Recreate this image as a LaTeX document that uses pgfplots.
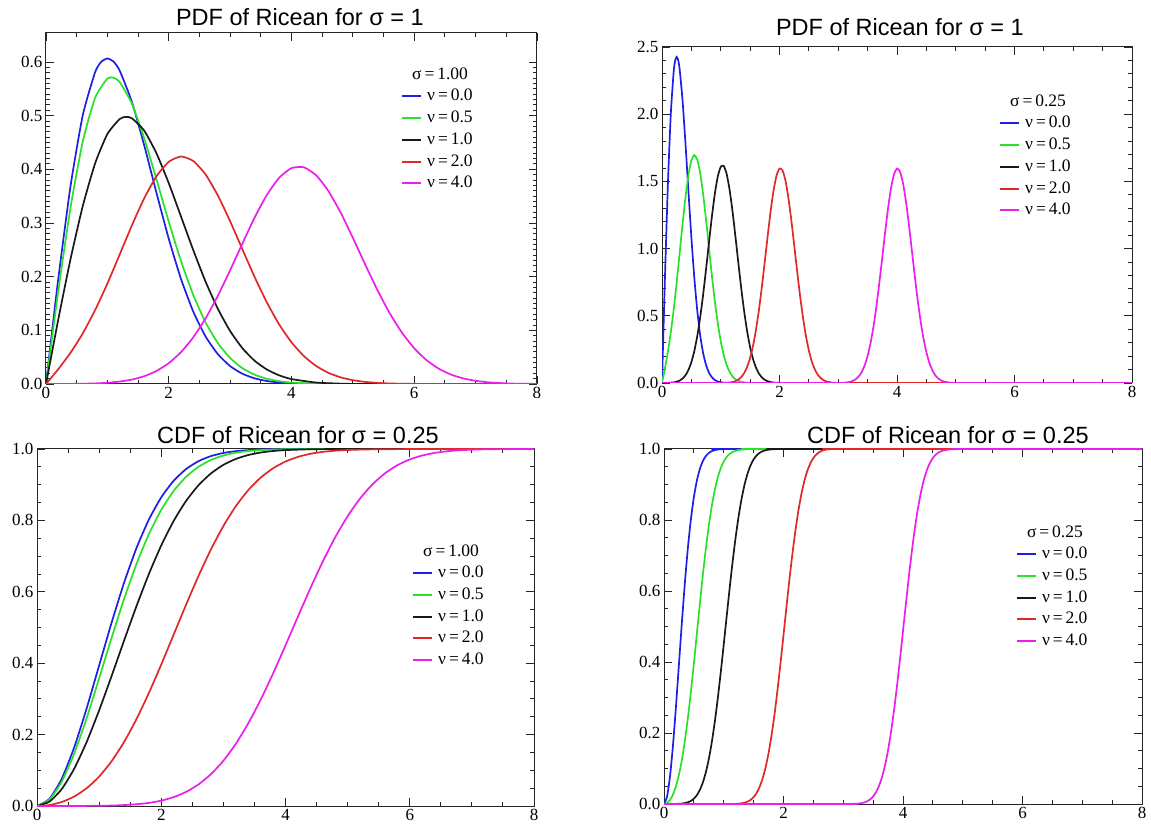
\documentclass[border=0pt]{standalone}
\usepackage{fontspec}
\setmainfont{Liberation Serif}
\newfontfamily\sansf{Liberation Sans}
\usepackage{pgfplots}
\pgfplotsset{compat=1.18}
\definecolor{cblue}{RGB}{30,30,230}
\definecolor{cgreen}{RGB}{40,225,40}
\definecolor{cblack}{RGB}{25,25,25}
\definecolor{cred}{RGB}{225,40,40}
\definecolor{cmag}{RGB}{235,30,235}
\pgfplotsset{
  rice/.style={
    scale only axis, anchor=south west,
    xmin=0, xmax=8, ymin=0,
    xtick={0,2,4,6,8}, minor x tick num=3,
    tick align=inside, major tick length=8pt, minor tick length=4pt,
    axis line style={black!85, line width=1pt},
    tick style={black!85, line width=0.9pt},
    /pgf/number format/assume math mode=true,
    tick label style={font=\fontsize{17}{17}\selectfont},
    yticklabel style={/pgf/number format/.cd, fixed, fixed zerofill, precision=1},
    xticklabel style={/pgf/number format/.cd, fixed, precision=0},
    legend cell align=left,
    legend image code/.code={\draw[##1, line width=2pt] (0pt,0pt) -- (19pt,0pt);},
    legend style={draw=none, fill=none, anchor=north west, inner sep=0pt,
      row sep=6.7pt, column sep=5pt, font=\fontsize{17.5}{17.5}\selectfont,
      nodes={inner sep=0pt, text height=12pt, text depth=3pt}},
    every axis plot/.append style={line width=1.7pt, smooth, tension=0.35},
    every axis title shift=0pt,
    title style={font=\sansf\fontsize{23.5}{24}\selectfont, anchor=base, inner sep=0pt},
  }
}
\begin{document}
\begin{tikzpicture}
\useasboundingbox (0,0) rectangle (1151pt,836pt);
% ---------------- Top left: PDF sigma = 1
\begin{axis}[rice, at={(46pt,452pt)}, width=491pt, height=351pt,
  ymax=0.654, ytick={0,0.1,0.2,0.3,0.4,0.5,0.6}, minor y tick num=9,
  title={PDF of Ricean for σ = 1}, title style={at={(0.517,1)}, yshift=7.5pt},
  legend style={at={(0.723,0.903)}}]
\addlegendimage{empty legend}
\addlegendentry{\hspace*{-15pt}σ\,=\,1.00}
\addplot[cblue] coordinates {(0,0)(0.1,0.0995)(0.2,0.1960)(0.4,0.3692)(0.6,0.5012)(0.8,0.5809)(0.9,0.6003)(1.0,0.6065)(1.1,0.6007)(1.2,0.5841)(1.4,0.5254)(1.6,0.4448)(1.8,0.3562)(2.0,0.2707)(2.2,0.1956)(2.4,0.1347)(2.6,0.0885)(2.8,0.0556)(3.0,0.0333)(3.2,0.0191)(3.4,0.0105)(3.6,0.0055)(3.8,0.0028)(4.0,0.0013)(4.4,0.0003)(5.0,0)(8,0)};
\addlegendentry{ν\,=\,0.0}
\addplot[cgreen] coordinates {(0,0)(0.2,0.1734)(0.4,0.3291)(0.6,0.4523)(0.8,0.5333)(1.0,0.5692)(1.1,0.5706)(1.2,0.5629)(1.4,0.5222)(1.6,0.4579)(1.8,0.3813)(2.0,0.3025)(2.2,0.2289)(2.4,0.1658)(2.6,0.1148)(2.8,0.0762)(3.0,0.0484)(3.2,0.0295)(3.4,0.0173)(3.6,0.0097)(3.8,0.0053)(4.0,0.0026)(4.4,0.0007)(5,0)(8,0)};
\addlegendentry{ν\,=\,0.5}
\addplot[cblack] coordinates {(0,0)(0.2,0.1201)(0.4,0.2330)(0.6,0.3319)(0.8,0.4110)(1.0,0.4657)(1.2,0.4937)(1.3,0.4977)(1.4,0.4950)(1.6,0.4721)(1.8,0.4298)(2.0,0.3743)(2.2,0.3119)(2.4,0.2493)(2.6,0.1907)(2.8,0.1401)(3.0,0.0987)(3.2,0.0667)(3.4,0.0432)(3.6,0.0269)(3.8,0.0161)(4.0,0.0092)(4.4,0.0027)(4.8,0.0007)(5.2,0.0001)(8,0)};
\addlegendentry{ν\,=\,1.0}
\addplot[cred] coordinates {(0,0)(0.2,0.0276)(0.4,0.0583)(0.6,0.0945)(0.8,0.1376)(1.0,0.1871)(1.2,0.2411)(1.4,0.2956)(1.6,0.3460)(1.8,0.3870)(2.0,0.4140)(2.2,0.4239)(2.4,0.4155)(2.6,0.3904)(2.8,0.3513)(3.0,0.3033)(3.2,0.2510)(3.4,0.1992)(3.6,0.1517)(3.8,0.1108)(4.0,0.0777)(4.2,0.0522)(4.4,0.0337)(4.6,0.0209)(4.8,0.0124)(5.0,0.0071)(5.2,0.0039)(5.4,0.0021)(5.6,0.0010)(5.8,0.0005)(6.0,0.0002)(6.4,0)(8,0)};
\addlegendentry{ν\,=\,2.0}
\addplot[cmag] coordinates {(0,0)(0.2,0.0001)(0.4,0.0002)(0.6,0.0005)(0.8,0.0011)(1.0,0.0023)(1.2,0.0045)(1.4,0.0082)(1.6,0.0145)(1.8,0.0243)(2.0,0.0388)(2.2,0.0594)(2.4,0.0871)(2.6,0.1222)(2.8,0.1644)(3.0,0.2119)(3.2,0.2617)(3.4,0.3102)(3.6,0.3525)(3.8,0.3844)(4.0,0.4022)(4.2,0.4038)(4.4,0.3891)(4.6,0.3598)(4.8,0.3195)(5.0,0.2723)(5.2,0.2228)(5.4,0.1750)(5.6,0.1320)(5.8,0.0956)(6.0,0.0665)(6.2,0.0444)(6.4,0.0285)(6.6,0.0175)(6.8,0.0104)(7.0,0.0059)(7.2,0.0032)(7.4,0.0017)(7.6,0.0008)(7.8,0.0004)(8.0,0.0002)};
\addlegendentry{ν\,=\,4.0}
\end{axis}
% ---------------- Top right: PDF sigma = 0.25
\begin{axis}[rice, at={(662pt,453pt)}, width=470pt, height=336pt,
  ymax=2.5, ytick={0,0.5,1,1.5,2,2.5}, minor y tick num=4,
  title={PDF of Ricean for σ = 1}, title style={at={(0.506,1)}, yshift=11.5pt},
  legend style={at={(0.717,0.860)}}]
\addlegendimage{empty legend}
\addlegendentry{\hspace*{-15pt}σ\,=\,0.25}
\addplot[cblue] coordinates {(0,0)(0.025,0.398)(0.05,0.784)(0.1,1.4768)(0.15,2.0048)(0.2,2.3236)(0.225,2.401)(0.25,2.4261)(0.275,2.403)(0.3,2.3364)(0.35,2.1016)(0.4,1.7792)(0.45,1.4248)(0.5,1.0827)(0.55,0.7825)(0.6,0.5390)(0.65,0.3541)(0.7,0.2222)(0.75,0.1333)(0.8,0.0765)(0.85,0.0420)(0.9,0.0221)(0.95,0.0111)(1.0,0.0054)(1.1,0.0012)(1.2,0)(8,0)};
\addlegendentry{ν\,=\,0.0}
\addplot[cgreen] coordinates {(0,0)(0.05,0.1104)(0.1,0.2332)(0.15,0.3780)(0.2,0.5504)(0.25,0.7484)(0.3,0.9644)(0.35,1.1824)(0.4,1.3840)(0.45,1.5480)(0.5,1.6560)(0.55,1.6956)(0.6,1.6620)(0.65,1.5616)(0.7,1.4052)(0.75,1.2132)(0.8,1.0040)(0.85,0.7968)(0.9,0.6068)(0.95,0.4432)(1.0,0.3108)(1.05,0.2088)(1.1,0.1348)(1.15,0.0836)(1.2,0.0496)(1.25,0.0284)(1.3,0.0156)(1.35,0.0084)(1.4,0.0040)(1.45,0.0020)(1.5,0.0009)(1.6,0.0002)(1.7,0)(8,0)};
\addlegendentry{ν\,=\,0.5}
\addplot[cblack] coordinates {(0,0)(0.1,0.0009)(0.2,0.0045)(0.25,0.0092)(0.3,0.0179)(0.35,0.0329)(0.4,0.0578)(0.45,0.0970)(0.5,0.1553)(0.55,0.2377)(0.6,0.3484)(0.65,0.4888)(0.7,0.6576)(0.75,0.8476)(0.8,1.0468)(0.85,1.2408)(0.9,1.4100)(0.95,1.5376)(1.0,1.6088)(1.05,1.6152)(1.1,1.5564)(1.15,1.4392)(1.2,1.2780)(1.25,1.0892)(1.3,0.8912)(1.35,0.7000)(1.4,0.5280)(1.45,0.3824)(1.5,0.2660)(1.55,0.1776)(1.6,0.1140)(1.65,0.0700)(1.7,0.0416)(1.75,0.0236)(1.8,0.0128)(1.85,0.0067)(1.9,0.0034)(2.0,0.0008)(2.1,0)(8,0)};
\addlegendentry{ν\,=\,1.0}
\addplot[cred] coordinates {(0,0)(1.0,0)(1.1,0.0018)(1.15,0.0037)(1.2,0.0074)(1.25,0.0140)(1.3,0.0255)(1.35,0.0446)(1.4,0.0750)(1.45,0.1208)(1.5,0.1870)(1.55,0.2780)(1.6,0.3969)(1.65,0.5440)(1.7,0.7161)(1.75,0.9054)(1.8,1.0993)(1.85,1.2820)(1.9,1.4358)(1.95,1.5445)(2.0,1.5958)(2.05,1.5836)(2.1,1.5095)(2.15,1.3820)(2.2,1.2153)(2.25,1.0266)(2.3,0.8330)(2.35,0.6492)(2.4,0.4860)(2.45,0.3495)(2.5,0.2415)(2.55,0.1602)(2.6,0.1021)(2.65,0.0625)(2.7,0.0368)(2.75,0.0208)(2.8,0.0113)(2.9,0.0029)(3.0,0.0004)(3.1,0)(8,0)};
\addlegendentry{ν\,=\,2.0}
\addplot[cmag] coordinates {(0,0)(3.0,0)(3.1,0.0022)(3.15,0.0044)(3.2,0.0085)(3.25,0.0160)(3.3,0.0288)(3.35,0.0497)(3.4,0.0826)(3.45,0.1318)(3.5,0.2020)(3.55,0.2975)(3.6,0.4209)(3.65,0.5721)(3.7,0.7471)(3.75,0.9371)(3.8,1.1295)(3.85,1.3077)(3.9,1.4546)(3.95,1.5544)(4.0,1.5958)(4.05,1.5739)(4.1,1.4914)(4.15,1.3577)(4.2,1.1874)(4.25,0.9977)(4.3,0.8053)(4.35,0.6245)(4.4,0.4654)(4.45,0.3331)(4.5,0.2291)(4.55,0.1513)(4.6,0.0961)(4.65,0.0586)(4.7,0.0343)(4.75,0.0193)(4.8,0.0105)(4.9,0.0027)(5.0,0.0004)(5.1,0)(8,0)};
\addlegendentry{ν\,=\,4.0}
\end{axis}
% ---------------- Bottom left: CDF sigma = 1
\begin{axis}[rice, at={(37pt,30pt)}, width=497pt, height=357pt,
  ymax=1, ytick={0,0.2,0.4,0.6,0.8,1}, minor y tick num=3,
  title={CDF of Ricean for σ = 0.25}, title style={at={(0.525,1)}, yshift=5.5pt},
  legend style={at={(0.7545,0.734)}}]
\addlegendimage{empty legend}
\addlegendentry{\hspace*{-15pt}σ\,=\,1.00}
\addplot[cblue] coordinates {(0,0)(0.2,0.0198)(0.4,0.0769)(0.6,0.1647)(0.8,0.2739)(1.0,0.3935)(1.2,0.5132)(1.4,0.6247)(1.6,0.7220)(1.8,0.8021)(2.0,0.8647)(2.2,0.9111)(2.4,0.9439)(2.6,0.9660)(2.8,0.9802)(3.0,0.9889)(3.2,0.9940)(3.4,0.9969)(3.6,0.9985)(3.8,0.9993)(4.0,0.9997)(4.5,1)(8,1)};
\addlegendentry{ν\,=\,0.0}
\addplot[cgreen] coordinates {(0,0)(0.2,0.0176)(0.4,0.0686)(0.6,0.1472)(0.8,0.2463)(1.0,0.3575)(1.2,0.4707)(1.4,0.5793)(1.6,0.6773)(1.8,0.7612)(2.0,0.8296)(2.2,0.8827)(2.4,0.9222)(2.6,0.9502)(2.8,0.9693)(3.0,0.9818)(3.2,0.9896)(3.4,0.9943)(3.6,0.9970)(3.8,0.9985)(4.0,0.9993)(4.4,0.9998)(5,1)(8,1)};
\addlegendentry{ν\,=\,0.5}
\addplot[cblack] coordinates {(0,0)(0.2,0.0121)(0.4,0.0478)(0.6,0.1048)(0.8,0.1796)(1.0,0.2678)(1.2,0.3637)(1.4,0.4626)(1.6,0.5593)(1.8,0.6495)(2.0,0.7299)(2.2,0.7985)(2.4,0.8546)(2.6,0.8986)(2.8,0.9317)(3.0,0.9556)(3.2,0.9721)(3.4,0.9831)(3.6,0.9901)(3.8,0.9944)(4.0,0.9969)(4.4,0.9993)(4.8,0.9999)(5.2,1)(8,1)};
\addlegendentry{ν\,=\,1.0}
\addplot[cred] coordinates {(0,0)(0.2,0.0027)(0.4,0.0113)(0.6,0.0266)(0.8,0.0498)(1.0,0.0823)(1.2,0.1251)(1.4,0.1788)(1.6,0.2429)(1.8,0.3162)(2.0,0.3963)(2.2,0.4801)(2.4,0.5640)(2.6,0.6446)(2.8,0.7188)(3.0,0.7843)(3.2,0.8397)(3.4,0.8847)(3.6,0.9198)(3.8,0.9461)(4.0,0.9649)(4.2,0.9779)(4.4,0.9865)(4.6,0.9920)(4.8,0.9953)(5.0,0.9972)(5.2,0.9983)(5.4,0.9990)(5.6,0.9994)(6.0,0.9998)(6.4,1)(8,1)};
\addlegendentry{ν\,=\,2.0}
\addplot[cmag] coordinates {(0,0)(0.6,0.0001)(0.8,0.0003)(1.0,0.0006)(1.2,0.0013)(1.4,0.0026)(1.6,0.0049)(1.8,0.0087)(2.0,0.0150)(2.2,0.0248)(2.4,0.0395)(2.6,0.0604)(2.8,0.0891)(3.0,0.1267)(3.2,0.1741)(3.4,0.2313)(3.6,0.2975)(3.8,0.3712)(4.0,0.4499)(4.2,0.5305)(4.4,0.6098)(4.6,0.6847)(4.8,0.7526)(5.0,0.8118)(5.2,0.8613)(5.4,0.9011)(5.6,0.9318)(5.8,0.9545)(6.0,0.9708)(6.2,0.9818)(6.4,0.9891)(6.6,0.9937)(6.8,0.9965)(7.0,0.9981)(7.2,0.9990)(7.4,0.9995)(7.6,0.9998)(8,1)};
\addlegendentry{ν\,=\,4.0}
\end{axis}
% ---------------- Bottom right: CDF sigma = 0.25
\begin{axis}[rice, at={(664pt,32pt)}, width=478pt, height=355pt,
  ymax=1, ytick={0,0.2,0.4,0.6,0.8,1}, minor y tick num=3,
  title={CDF of Ricean for σ = 0.25}, title style={at={(0.594,1)}, yshift=5.5pt},
  legend style={at={(0.736,0.786)}}]
\addlegendimage{empty legend}
\addlegendentry{\hspace*{-15pt}σ\,=\,0.25}
\addplot[cblue] coordinates {(0,0)(0.05,0.0198)(0.1,0.0769)(0.15,0.1647)(0.2,0.2739)(0.25,0.3935)(0.3,0.5132)(0.35,0.6247)(0.4,0.7220)(0.45,0.8021)(0.5,0.8647)(0.55,0.9111)(0.6,0.9439)(0.65,0.9660)(0.7,0.9802)(0.75,0.9889)(0.8,0.9940)(0.85,0.9969)(0.9,0.9985)(0.95,0.9993)(1.0,0.9997)(1.125,1)(8,1)};
\addlegendentry{ν\,=\,0.0}
\addplot[cgreen] coordinates {(0,0)(0.05,0.0027)(0.1,0.0113)(0.15,0.0266)(0.2,0.0498)(0.25,0.0823)(0.3,0.1251)(0.35,0.1788)(0.4,0.2429)(0.45,0.3162)(0.5,0.3963)(0.55,0.4801)(0.6,0.5640)(0.65,0.6446)(0.7,0.7188)(0.75,0.7843)(0.8,0.8397)(0.85,0.8847)(0.9,0.9198)(0.95,0.9461)(1.0,0.9649)(1.05,0.9779)(1.1,0.9865)(1.15,0.9920)(1.2,0.9953)(1.25,0.9972)(1.3,0.9983)(1.35,0.9990)(1.4,0.9994)(1.5,0.9998)(1.6,1)(8,1)};
\addlegendentry{ν\,=\,0.5}
\addplot[cblack] coordinates {(0,0)(0.15,0.0001)(0.2,0.0003)(0.25,0.0006)(0.3,0.0013)(0.35,0.0026)(0.4,0.0049)(0.45,0.0087)(0.5,0.0150)(0.55,0.0248)(0.6,0.0395)(0.65,0.0604)(0.7,0.0891)(0.75,0.1267)(0.8,0.1741)(0.85,0.2313)(0.9,0.2975)(0.95,0.3712)(1.0,0.4499)(1.05,0.5305)(1.1,0.6098)(1.15,0.6847)(1.2,0.7526)(1.25,0.8118)(1.3,0.8613)(1.35,0.9011)(1.4,0.9318)(1.45,0.9545)(1.5,0.9708)(1.55,0.9818)(1.6,0.9891)(1.65,0.9937)(1.7,0.9965)(1.75,0.9981)(1.8,0.9990)(1.85,0.9995)(1.9,0.9998)(2.0,1)(8,1)};
\addlegendentry{ν\,=\,1.0}
\addplot[cred] coordinates {(0,0)(1.1,0.0001)(1.15,0.0002)(1.2,0.0005)(1.25,0.0010)(1.3,0.0020)(1.35,0.0038)(1.4,0.0068)(1.45,0.0117)(1.5,0.0194)(1.55,0.0310)(1.6,0.0479)(1.65,0.0714)(1.7,0.1029)(1.75,0.1434)(1.8,0.1935)(1.85,0.2531)(1.9,0.3220)(1.95,0.3970)(2.0,0.4760)(2.05,0.5560)(2.1,0.6335)(2.15,0.7058)(2.2,0.7710)(2.25,0.8271)(2.3,0.8736)(2.35,0.9107)(2.4,0.9391)(2.45,0.9599)(2.5,0.9747)(2.55,0.9848)(2.6,0.9913)(2.65,0.9954)(2.7,0.9979)(2.75,0.9993)(2.8,0.9998)(2.9,1)(8,1)};
\addlegendentry{ν\,=\,2.0}
\addplot[cmag] coordinates {(0,0)(3.1,0.0001)(3.15,0.0003)(3.2,0.0006)(3.25,0.0012)(3.3,0.0023)(3.35,0.0043)(3.4,0.0076)(3.45,0.0130)(3.5,0.0213)(3.55,0.0338)(3.6,0.0518)(3.65,0.0766)(3.7,0.1096)(3.75,0.1517)(3.8,0.2034)(3.85,0.2643)(3.9,0.3334)(3.95,0.4086)(4.0,0.4874)(4.05,0.5666)(4.1,0.6433)(4.15,0.7145)(4.2,0.7781)(4.25,0.8328)(4.3,0.8778)(4.35,0.9136)(4.4,0.9408)(4.45,0.9608)(4.5,0.9749)(4.55,0.9844)(4.6,0.9906)(4.65,0.9944)(4.7,0.9968)(4.75,0.9981)(4.8,0.9989)(4.9,0.9996)(5.0,1)(8,1)};
\addlegendentry{ν\,=\,4.0}
\end{axis}
\end{tikzpicture}
\end{document}
